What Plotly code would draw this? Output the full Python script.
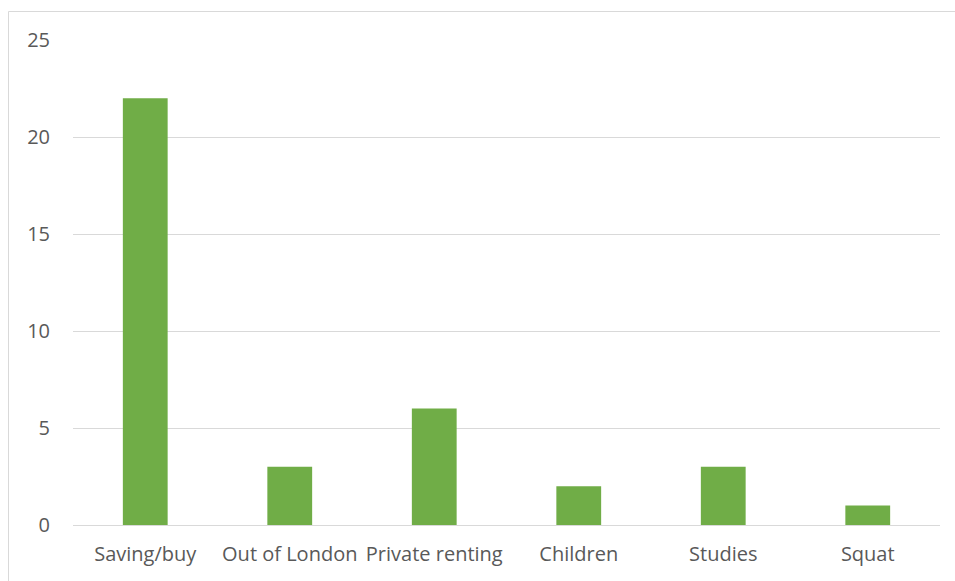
import plotly.graph_objects as go

categories = ["Saving/buy", "Out of London", "Private renting", "Children", "Studies", "Squat"]
counts = [22, 3, 6, 2, 3, 1]
y_ticks = [0, 5, 10, 15, 20, 25]

W, H = 955, 581
L, R, T, B = 73, 15, 40, 56
plot_w = W - L - R
plot_h = H - T - B

fig = go.Figure(
    go.Bar(
        x=categories,
        y=counts,
        marker=dict(color="#70AD47", line=dict(width=0)),
        hoverinfo="x+y",
    )
)

fig.update_layout(
    width=W,
    height=H,
    margin=dict(l=L, r=R, t=T, b=B, autoexpand=False),
    paper_bgcolor="white",
    plot_bgcolor="white",
    bargap=0.69,
    showlegend=False,
    font=dict(family="Open Sans, sans-serif", size=20, color="#595959"),
    xaxis=dict(
        showgrid=False,
        showline=False,
        ticks="",
        tickangle=0,
        automargin=False,
        ticklabelstandoff=15,
        tickfont=dict(size=20, color="#595959"),
    ),
    yaxis=dict(
        range=[0, 25],
        tickvals=y_ticks,
        showgrid=True,
        gridcolor="#D9D9D9",
        gridwidth=1,
        zeroline=True,
        zerolinecolor="#D9D9D9",
        zerolinewidth=1,
        showline=False,
        ticks="",
        automargin=False,
        ticklabelstandoff=22,
        tickfont=dict(size=20, color="#595959"),
    ),
    shapes=[
        # chart frame
        dict(
            type="rect",
            xref="paper",
            yref="paper",
            x0=(8.5 - L) / plot_w,
            x1=(W + 10 - L) / plot_w,
            y0=-(B + 10) / plot_h,
            y1=(H - B - 11.5) / plot_h,
            line=dict(color="#D9D9D9", width=1),
            fillcolor="rgba(0,0,0,0)",
            layer="below",
        )
    ],
)

fig.write_html("out.html")
